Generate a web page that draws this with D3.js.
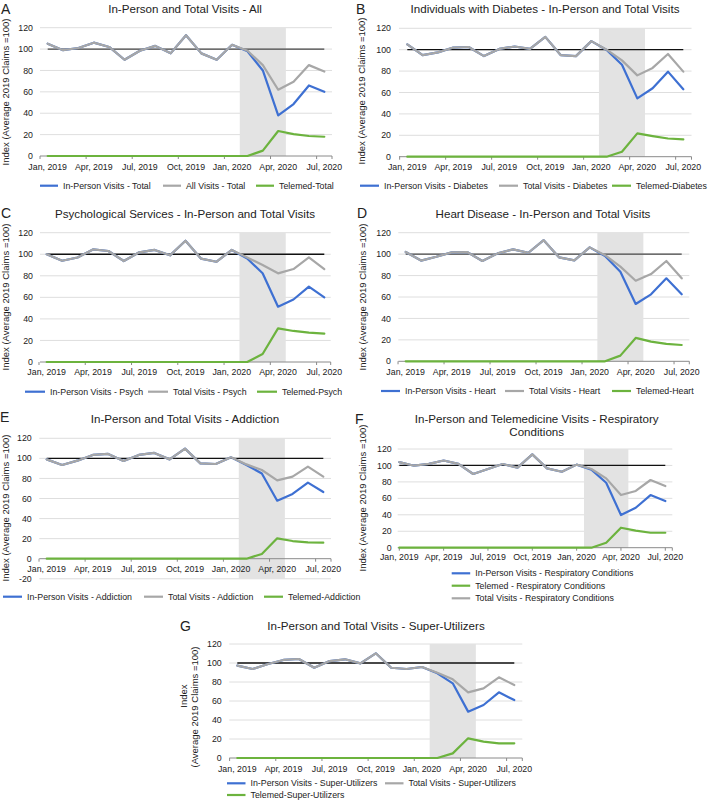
<!DOCTYPE html>
<html><head><meta charset="utf-8">
<script src="https://cdn.jsdelivr.net/npm/d3@7"></script>
<style>
body{margin:0;background:#fff}
svg{display:block}
text{font-family:"Liberation Sans",Arial,Helvetica,sans-serif;fill:#222}
</style>
</head><body>
<svg id="c" width="711" height="800"></svg>
<script>
// ---------- DATA ----------
const months = ["Jan, 2019","Feb, 2019","Mar, 2019","Apr, 2019","May, 2019","Jun, 2019","Jul, 2019","Aug, 2019","Sep, 2019","Oct, 2019","Nov, 2019","Dec, 2019","Jan, 2020","Feb, 2020","Mar, 2020","Apr, 2020","May, 2020","Jun, 2020","Jul, 2020"];
const tickLabels = ["Jan, 2019","Apr, 2019","Jul, 2019","Oct, 2019","Jan, 2020","Apr, 2020","Jul, 2020"];
const shadeMonths = ["Feb, 2020","Mar, 2020","Apr, 2020"];
const yTicks = [0,20,40,60,80,100,120];
const yTicksE = [-20,0,20,40,60,80,100,120];
const referenceValue = 100;

// A - All
const allInPerson = [105,99,101,106,102,90,98.5,103,96,113,96,90,104,98,80,38,48.6,66,60];
const allTotal    = [105,99,101,106,102,90,98.5,103,96,113,96,90,104,98.5,85,62,69.5,85,79];
const allTelemed  = [0,0,0,0,0,0,0,0,0,0,0,0,0,0,5,23.4,20.5,18.7,18];
// B - Diabetes
const diabInPerson = [105,95,97.5,102,102.5,94,100.7,103,100.7,112,95,94,108,99.7,86,54.5,64,79.5,63];
const diabTotal    = [105,95,97.5,102,102.5,94,100.7,103,100.7,112,95,94,108,100,90,76,83,96,79.5];
const diabTelemed  = [0,0,0,0,0,0,0,0,0,0,0,0,0,0,4.7,21.8,19.3,17,16.2];
// C - Psych
const psychInPerson = [100,94,97,104.5,103,93.7,101.8,104,99,112.6,96,93,104,96,82.3,51.3,58,70,60];
const psychTotal    = [100,94,97,104.5,103,93.7,101.8,104,99,112.6,96,93,104,97,90,82.3,86.3,97,86.3];
const psychTelemed  = [0,0,0,0,0,0,0,0,0,0,0,0,0,0,7.4,31.2,28.8,27.2,26.3];
// D - Heart
const heartInPerson = [102,94,97.6,101.6,102,93.6,100.7,104.4,101.3,113,97,94.2,106.3,98.2,83.6,53.5,62.5,77.4,62.5];
const heartTotal    = [102,94,97.6,101.6,102,93.6,100.7,104.4,101.3,113,97,94.2,106.3,99,88.3,75.2,81.4,93.6,77.4];
const heartTelemed  = [0,0,0,0,0,0,0,0,0,0,0,0,0,0,5.3,21.8,18.3,16.2,15.2];
// E - Addiction
const addInPerson = [99,93.4,97.7,103.4,104.4,97.4,103.4,105.4,99,109.7,95,94.4,101,93.4,85,57.8,64.5,75.8,66.5];
const addTotal    = [99,93.4,97.7,103.4,104.4,97.4,103.4,105.4,99,109.7,95,94.4,101,94,88.4,78,81.8,91.8,81.8];
const addTelemed  = [0,0,0,0,0,0,0,0,0,0,0,0,0,0,4.7,20.3,17.6,16.3,16];
// F - Respiratory
const respInPerson = [104,99.7,102,106,102,89.6,95.7,101.7,97.3,113.5,96.5,92.4,101,94.9,79,39.7,48.6,64,56.7];
const respTelemed  = [0,0,0,0,0,0,0,0,0,0,0,0,0,0,6,24.3,20.7,18.2,18.2];
const respTotal    = [104,99.7,102,106,102,89.6,95.7,101.7,97.3,113.5,96.5,92.4,101,95.7,84.3,64,69,82.3,75];
// G - Super-Utilizers
const superInPerson = [97.2,93.7,99,103.2,104.2,95,102,103.9,99.6,110.2,95,93.7,95.8,89.1,78.6,48.8,55.8,69.1,61];
const superTotal    = [97.2,93.7,99,103.2,104.2,95,102,103.9,99.6,110.2,95,93.7,95.8,89.8,82.8,69.1,73.3,84.9,76.8];
const superTelemed  = [0,0,0,0,0,0,0,0,0,0,0,0,0,0,4.9,20.7,17.2,15.4,15.4];

// ---------- STYLE ----------
const colors = {inPerson:"#3e70d2", total:"#a7a7a7", telemed:"#6cb33e"};
const drawOrder = ["inPerson","total","telemed"];

const panels = [
  {letter:"A", title:["In-Person and Total Visits - All"], yTicks:yTicks,
   series:[{key:"inPerson",name:"In-Person Visits - Total",values:allInPerson},
           {key:"total",name:"All Visits - Total",values:allTotal},
           {key:"telemed",name:"Telemed-Total",values:allTelemed}],
   L:{p0:47.7,p1:324.3,a0:40,a1:332,y0:156,y120:27.7,tickR:33,ytX:[9],ytY:[92],ytLines:["Index (Average 2019 Claims =100)"],
      tX:185,tY:[13.3],lX:1,lY:13.5,xlY:169.5,onPoint:false,ref:"#444",
      leg:[[40,185.7],[163,185.7],[256,185.7]],legLen:18}},
  {letter:"B", title:["Individuals with Diabetes - In-Person and Total Visits"], yTicks:yTicks,
   series:[{key:"inPerson",name:"In-Person Visits - Diabetes",values:diabInPerson},
           {key:"total",name:"Total Visits - Diabetes",values:diabTotal},
           {key:"telemed",name:"Telemed-Diabetes",values:diabTelemed}],
   L:{p0:407.3,p1:683.3,a0:399,a1:691.5,y0:156.7,y120:28.3,tickR:391,ytX:[365],ytY:[91],ytLines:["Index (Average 2019 Claims =100)"],
      tX:545,tY:[13.3],lX:356,lY:13.5,xlY:169.5,onPoint:false,ref:"#111",
      leg:[[360,185.7],[499,185.7],[612,185.7]],legLen:19}},
  {letter:"C", title:["Psychological Services - In-Person and Total Visits"], yTicks:yTicks,
   series:[{key:"inPerson",name:"In-Person Visits - Psych",values:psychInPerson},
           {key:"total",name:"Total Visits - Psych",values:psychTotal},
           {key:"telemed",name:"Telemed-Psych",values:psychTelemed}],
   L:{p0:46.7,p1:324.3,a0:40,a1:330.7,y0:362,y120:232.7,tickR:33,ytX:[9],ytY:[297],ytLines:["Index (Average 2019 Claims =100)"],
      tX:185,tY:[218.3],lX:1,lY:217.5,xlY:375,onPoint:false,ref:"#111",
      leg:[[25,391.7],[148,391.7],[257,391.7]],legLen:20}},
  {letter:"D", title:["Heart Disease - In-Person and Total Visits"], yTicks:yTicks,
   series:[{key:"inPerson",name:"In-Person Visits - Heart",values:heartInPerson},
           {key:"total",name:"Total Visits - Heart",values:heartTotal},
           {key:"telemed",name:"Telemed-Heart",values:heartTelemed}],
   L:{p0:405.7,p1:681.7,a0:398.3,a1:689.3,y0:361.3,y120:232.7,tickR:391,ytX:[366],ytY:[297],ytLines:["Index (Average 2019 Claims =100)"],
      tX:543,tY:[218.3],lX:357,lY:217.5,xlY:375,onPoint:false,ref:"#444",
      leg:[[381,391],[505,391],[612,391]],legLen:19}},
  {letter:"E", title:["In-Person and Total Visits - Addiction"], yTicks:yTicksE,
   series:[{key:"inPerson",name:"In-Person Visits  - Addiction",values:addInPerson},
           {key:"total",name:"Total Visits - Addiction",values:addTotal},
           {key:"telemed",name:"Telemed-Addiction",values:addTelemed}],
   L:{p0:46.7,p1:323.3,a0:39.3,a1:331,y0:558.7,y120:438.3,tickR:31.7,ytX:[9],ytY:[508],ytLines:["Index (Average 2019 Claims =100)"],
      tX:185,tY:[422.7],lX:0,lY:421.7,xlY:571.5,onPoint:false,ref:"#111",
      leg:[[3,596.7],[144,596.7],[264,596.7]],legLen:19}},
  {letter:"F", title:["In-Person and Telemedicine Visits - Respiratory","Conditions"], yTicks:yTicks,
   series:[{key:"inPerson",name:"In-Person Visits - Respiratory Conditions",values:respInPerson},
           {key:"telemed",name:"Telemed - Respiratory Conditions",values:respTelemed},
           {key:"total",name:"Total Visits - Respiratory Conditions",values:respTotal}],
   L:{p0:399.3,p1:665.3,a0:397.7,a1:672.3,y0:547.7,y120:449,tickR:391.7,ytX:[366],ytY:[498],ytLines:["Index (Average 2019 Claims =100)"],
      tX:536.7,tY:[422.7,436],lX:355,lY:424,xlY:560,onPoint:true,ref:"#111",
      leg:[[451.7,573.3],[451.7,585.7],[451.7,598.3]],legLen:18.5}},
  {letter:"G", title:["In-Person and Total Visits - Super-Utilizers"], yTicks:yTicks,
   series:[{key:"inPerson",name:"In-Person Visits - Super-Utilizers",values:superInPerson},
           {key:"total",name:"Total Visits - Super-Utilizers",values:superTotal},
           {key:"telemed",name:"Telemed-Super-Utilizers",values:superTelemed}],
   L:{p0:237.3,p1:514.3,a0:229.3,a1:522.3,y0:758,y120:644,tickR:221.7,ytX:[187,198],ytY:[696,707],ytLines:["Index","(Average 2019 Claims =100)"],
      tX:376,tY:[630],lX:180,lY:631,xlY:771.7,onPoint:false,ref:"#111",
      leg:[[227,783.3],[385,783.3],[227,795]],legLen:18.5}}
];

const svg = d3.select("#c");

panels.forEach(p => {
  const L = p.L;
  const g = svg.append("g");
  const x = d3.scalePoint().domain(months).range([L.p0, L.p1]);
  const step = x.step();
  const y = d3.scaleLinear().domain([0,120]).range([L.y0, L.y120]);
  const yMin = d3.min(p.yTicks);

  // gridlines
  g.selectAll(".grid").data(p.yTicks.filter(t => t !== 0)).join("line")
    .attr("x1", L.a0).attr("x2", L.a1)
    .attr("y1", d => y(d)).attr("y2", d => y(d))
    .attr("stroke", "#dadada").attr("stroke-width", 0.9);

  // shaded period
  const sx0 = x(shadeMonths[0]) - step/2, sx1 = x(shadeMonths[shadeMonths.length-1]) + step/2;
  g.append("rect").attr("x", sx0).attr("width", sx1 - sx0)
    .attr("y", y(120)).attr("height", y(yMin) - y(120)).attr("fill", "#e3e3e3");

  // reference line at 100
  g.append("line").attr("x1", x(months[0])).attr("x2", x(months[months.length-1]))
    .attr("y1", y(referenceValue)).attr("y2", y(referenceValue))
    .attr("stroke", L.ref).attr("stroke-width", 1.3);

  // x axis line + ticks
  g.append("line").attr("x1", L.a0).attr("x2", L.a1).attr("y1", y(0)).attr("y2", y(0))
    .attr("stroke", "#8a8a8a").attr("stroke-width", 1);
  const tickPos = tickLabels.map(m => L.onPoint ? x(m) : x(m) - step/2);
  tickPos.push(L.a1);
  g.selectAll(".xt").data(tickPos).join("line")
    .attr("x1", d => d).attr("x2", d => d).attr("y1", y(0)).attr("y2", y(0) + 3)
    .attr("stroke", "#8a8a8a").attr("stroke-width", 1);

  // series
  const line = d3.line().x((d,i) => x(months[i])).y(d => y(d));
  drawOrder.forEach(k => {
    const s = p.series.find(s => s.key === k);
    g.append("path").attr("d", line(s.values)).attr("fill", "none")
      .attr("stroke", colors[k]).attr("stroke-width", 2.2)
      .attr("stroke-linejoin", "round").attr("stroke-linecap", "round");
  });

  // y tick labels
  g.selectAll(".yl").data(p.yTicks).join("text")
    .attr("x", L.tickR).attr("y", d => y(d)).attr("dy", "0.35em")
    .attr("text-anchor", "end").attr("font-size", 8.8).text(d => d);

  // x tick labels
  g.selectAll(".xl").data(tickLabels).join("text")
    .attr("x", d => x(d)).attr("y", L.xlY)
    .attr("text-anchor", "middle").attr("font-size", 8.8).text(d => d);

  // y title
  L.ytLines.forEach((t, i) => {
    g.append("text").attr("transform", `translate(${L.ytX[i]},${L.ytY[i]}) rotate(-90)`)
      .attr("text-anchor", "middle").attr("font-size", 9.5).text(t);
  });

  // title
  p.title.forEach((t, i) => {
    g.append("text").attr("x", L.tX).attr("y", L.tY[i]).attr("text-anchor", "middle")
      .attr("font-size", 11.6).text(t);
  });

  // letter
  g.append("text").attr("x", L.lX).attr("y", L.lY).attr("font-size", 14).text(p.letter);

  // legend
  p.series.forEach((s, i) => {
    const [lx, ly] = L.leg[i];
    g.append("line").attr("x1", lx).attr("x2", lx + L.legLen).attr("y1", ly).attr("y2", ly)
      .attr("stroke", colors[s.key]).attr("stroke-width", 2.2);
    g.append("text").attr("x", lx + L.legLen + 5).attr("y", ly).attr("dy", "0.35em")
      .attr("font-size", 8.8).text(s.name);
  });
});
</script>
</body></html>
